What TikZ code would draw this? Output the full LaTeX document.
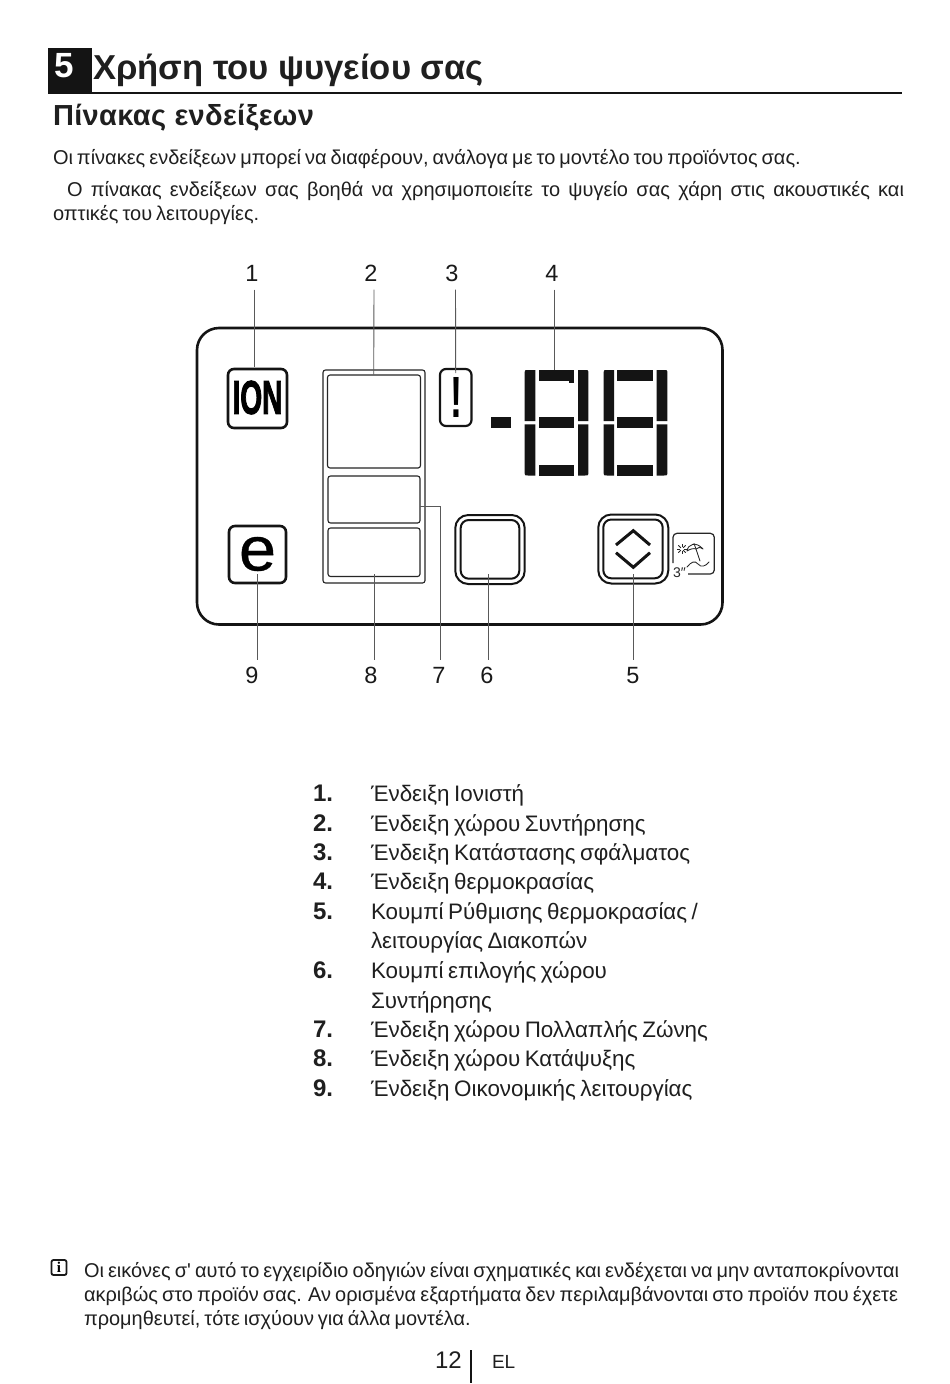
\documentclass[tikz,border=0pt]{standalone}
\usepackage{fontspec}
\usepackage{graphicx}
\setmainfont{Liberation Sans}
\newfontfamily\serifi{Liberation Serif}
\newfontfamily\plainf{Liberation Sans}
\newcommand{\fsz}[1]{\fontsize{#1}{#1}\selectfont}
\newcommand{\tightsp}{\spaceskip=.2em plus .2em minus .05em\relax}
\tikzset{
  txt/.style={anchor=base west,inner sep=0pt,outer sep=0pt,text=black!88},
  body/.style={txt,font=\fsz{20}\tightsp},
  listt/.style={txt,font=\fsz{22.4}\tightsp},
  listn/.style={txt,font=\fsz{24}\bfseries},
  notet/.style={txt,font=\fsz{19.95}\tightsp},
  lab/.style={inner sep=0pt,outer sep=0pt,font=\fsz{23.5},text=black!90,anchor=base},
  lead/.style={draw=black!65,line width=0.9pt},
  seg/.style={fill=black!92,draw=none},
  box/.style={draw=black!92,line width=2.6pt,fill=white,rounded corners=6pt,inner sep=0pt,outer sep=0pt},
  thinbox/.style={draw=black!85,line width=1.1pt,rounded corners=2.5pt,inner sep=0pt,outer sep=0pt},
  ico/.style={draw=black!85,line width=0.85pt,line cap=round,line join=round}
}
\newcommand{\bx}[6]{\node[#1,minimum width=#4pt-#2pt,minimum height=#5pt-#3pt] (#6) at ({(#2+#4)/2},{(#3+#5)/2}) {};}
\newcommand{\sq}[4]{\fill[seg] (#1,#3) rectangle (#2,#4);}
% vertical segment: inner x, outer x, y at the middle, y at the outer end, dx sign, dy sign
\newcommand{\vs}[6]{\fill[seg] (#1,#3) -- (#2,#3) -- (#2,{#4-(#6)*3.5}) .. controls (#2,#4) .. ({#2-(#5)*3.5},#4) -- (#1,#4) -- cycle;}
\newcommand{\eight}[8]{%
 \vs{#2}{#1}{421}{#7}{-1}{-1}
 \vs{#2}{#1}{424.3}{#8}{-1}{1}
 \vs{#5}{#6}{421}{#7}{1}{-1}
 \vs{#5}{#6}{424.3}{#8}{1}{1}
 \sq{#3}{#4}{#7}{381}
 \sq{#3}{#4}{417.3}{427.7}
 \sq{#3}{#4}{465}{#8}
}
\begin{document}
\begin{tikzpicture}[x=1pt,y=-1pt]
\fill[white] (0,0) rectangle (950,1384);
\useasboundingbox (0,0) rectangle (950,1384);
% header
\fill[black!92] (48,48) rectangle (92,93);
\draw[black!92,line width=2pt] (48,93) -- (902,93);
\node[inner sep=0pt,text=white,font=\fsz{35}\bfseries] (chap) at (64,66) {5};
\node[txt,font=\fsz{34.6}\bfseries] (title) at (93,79.5) {Χρήση του ψυγείου σας};
\node[txt,font=\fsz{29}\bfseries] (head) at (53,125.5) {\addfontfeature{LetterSpace=1.2}Πίνακας ενδείξεων};
\node[body] (p1) at (53,164) {Οι πίνακες ενδείξεων μπορεί να διαφέρουν, ανάλογα με το μοντέλο του προϊόντος σας.};
\node[body] (p2) at (67,196) {\makebox[837pt][s]{Ο πίνακας ενδείξεων σας βοηθά να χρησιμοποιείτε το ψυγείο σας χάρη στις ακουστικές και}};
\node[body] (p3) at (53,220) {οπτικές του λειτουργίες.};
% panel
\draw[black!92,line width=2.6pt,rounded corners=22pt] (197,328) rectangle (722.5,624.5);
\bx{box}{228}{369}{287}{428}{ion}
\node[inner sep=0pt,font=\bfseries\addfontfeature{FakeBold=2.5}] (iontext) at (257.5,397.5) {\resizebox{50pt}{33pt}{ION}};
\bx{box}{229}{526}{286}{583}{eco}
\node[inner sep=0pt,font=\addfontfeature{FakeBold=0.6}] (ecotext) at (257.5,554) {\resizebox{37pt}{33.5pt}{e}};
\bx{thinbox}{323}{370}{425}{583}{group}
\bx{thinbox}{327.5}{375}{420.5}{468}{fridge}
\bx{thinbox}{328}{476}{420}{523}{multi}
\bx{thinbox}{328}{528}{420}{576.5}{freezer}
\bx{box,line width=2.2pt}{440}{369}{471.5}{426}{err}
\node[inner sep=0pt,font=\bfseries] (errtext) at (456,397) {\resizebox{12pt}{40pt}{!}};
\fill[seg] (490.7,417) rectangle (510.7,427.7);
\eight{524.7}{535.3}{539}{574.3}{578}{588.3}{370}{475.5}
\eight{603.7}{614}{617}{653}{656.7}{667.3}{370}{475.5}
\fill[seg] (569,381) rectangle (574.3,382.5);
% buttons
\bx{box,line width=2pt,rounded corners=13pt}{455.3}{515}{524.7}{584}{sel}
\bx{box,line width=2pt,rounded corners=8pt}{460.7}{520}{519.3}{578.7}{selin}
\bx{box,line width=2pt,rounded corners=13pt}{598.3}{514.5}{668.3}{583.5}{adj}
\bx{box,line width=2pt,rounded corners=8pt}{603.3}{519.5}{662.7}{578.3}{adjin}
\draw[black!92,line width=3pt] (616,545) -- (633.3,530.7) -- (650,545);
\draw[black!92,line width=3pt] (616,552.7) -- (633.3,567.3) -- (650,552.7);
% vacation icon
\draw[black!85,line width=1.2pt,rounded corners=4pt] (673,563) -- (673,533.3) -- (714.3,533.3) -- (714.3,574) -- (688,574);
\node[inner sep=0pt,font=\fsz{14},text=black!85] (three) at (679.5,572.5) {3\char"2033};
\draw[ico] (687,551) .. controls (688,544) and (696,541) .. (703,549) .. controls (700,547) and (698,547) .. (696,549) .. controls (694,548) and (690,549) .. (687,551) -- cycle;
\draw[ico] (694,543.5) -- (696,549) -- (700,561);
\draw[ico] (687,567) .. controls (691,562) and (695,560) .. (698,564) .. controls (701,568) and (706,566) .. (709,562);
\foreach \a in {0,45,...,315}{\draw[black!85,line width=0.8pt] (682,549)++(\a:1.6) -- ++(\a:3.6);}
% number labels
\node[lab] (l1) at (252,281.5) {1};
\node[lab] (l2) at (371,281.5) {2};
\node[lab] (l3) at (452,281.5) {3};
\node[lab] (l4) at (552,281.5) {4};
\node[lab] (l9) at (252,683.5) {9};
\node[lab] (l8) at (371,683.5) {8};
\node[lab] (l7) at (439,683.5) {7};
\node[lab] (l6) at (487,683.5) {6};
\node[lab] (l5) at (633,683.5) {5};
\coordinate (t4) at (554,370);
\draw[lead] ([shift={(2,8)}]l1.south) -- (254,367);
\draw[lead] ([shift={(3,8)}]l2.south) -- (373.7,374.5);
\draw[lead] ([shift={(3.5,8)}]l3.south) -- (455.7,373);
\draw[lead] ([shift={(2,8)}]l4.south) -- (t4);
\draw[lead] (257.5,574) -- (257.5,660);
\draw[lead] (374.3,574) -- (374.3,660);
\draw[lead] (multi.east |- 0,506) -| (440.3,660);
\draw[lead] (488.3,574) -- (488.3,660);
\draw[lead] (633.3,574) -- (633.3,660);
% list
\foreach \n/\y in {1/801,2/831,3/860,4/889,5/919,6/978,7/1037,8/1066,9/1096}{
  \node[listn] (n\n) at (313,\y) {\n.};
}
\node[listt] (i1) at (371,801) {Ένδειξη Ιονιστή};
\node[listt] (i2) at (371,831) {Ένδειξη χώρου Συντήρησης};
\node[listt] (i3) at (371,860) {Ένδειξη Κατάστασης σφάλματος};
\node[listt] (i4) at (371,889) {Ένδειξη θερμοκρασίας};
\node[listt] (i5) at (371,919) {Κουμπί Ρύθμισης θερμοκρασίας /};
\node[listt] (i5b) at (371,948) {λειτουργίας Διακοπών};
\node[listt] (i6) at (371,978) {Κουμπί επιλογής χώρου};
\node[listt] (i6b) at (371,1008) {Συντήρησης};
\node[listt] (i7) at (371,1037) {Ένδειξη χώρου Πολλαπλής Ζώνης};
\node[listt] (i8) at (371,1066) {Ένδειξη χώρου Κατάψυξης};
\node[listt] (i9) at (371,1096) {Ένδειξη Οικονομικής λειτουργίας};
% note
\draw[black!90,line width=1.8pt,fill=white,rounded corners=2pt] (51.5,1260) rectangle (66.5,1275);
\node[inner sep=0pt,font=\fsz{15}\serifi\bfseries] (info) at (59,1267) {i};
\node[notet] (f1) at (84,1277) {\makebox[815pt][s]{Οι εικόνες σ{\plainf\fsz{19.95}'} αυτό το εγχειρίδιο οδηγιών είναι σχηματικές και ενδέχεται να μην ανταποκρίνονται}};
\node[notet] (f2) at (84,1301) {\makebox[814pt][s]{ακριβώς στο προϊόν σας. Αν ορισμένα εξαρτήματα δεν περιλαμβάνονται στο προϊόν που έχετε}};
\node[notet] (f3) at (84,1325) {προμηθευτεί, τότε ισχύουν για άλλα μοντέλα.};
% footer
\node[txt,font=\fsz{24}] (pg) at (435,1368) {12};
\draw[black!92,line width=2pt] (471,1350) -- (471,1383);
\node[txt,font=\fsz{19}] (lang) at (492,1368) {EL};
\end{tikzpicture}
\end{document}
